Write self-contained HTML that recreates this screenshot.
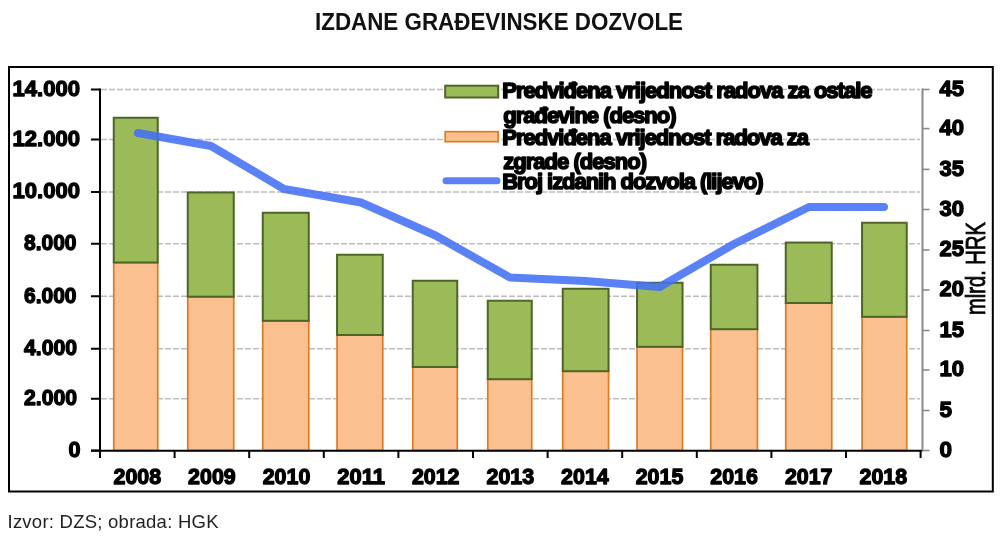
<!DOCTYPE html>
<html lang="hr"><head><meta charset="utf-8"><title>Izdane građevinske dozvole</title>
<style>
html,body{margin:0;padding:0;background:#fff;}
body{width:1000px;height:539px;overflow:hidden;font-family:"Liberation Sans",Arial,sans-serif;}
svg{display:block;filter:blur(0.45px);}
svg text{font-family:"Liberation Sans",Arial,sans-serif;}
.b{font-weight:bold;font-size:22px;fill:#000;stroke:#000;stroke-width:1.3px;stroke-linejoin:round;}
</style></head><body>
<svg width="1000" height="539" viewBox="0 0 1000 539">
<rect x="0" y="0" width="1000" height="539" fill="#fff"/>
<text x="315" y="29.7" font-weight="bold" font-size="23.8" fill="#111" textLength="368" lengthAdjust="spacingAndGlyphs">IZDANE GRAĐEVINSKE DOZVOLE</text>
<rect x="9" y="67" width="983.8" height="424.5" fill="#fff" stroke="#000" stroke-width="2"/>
<line x1="101" x2="920" y1="89.5" y2="89.5" stroke="#bdbdbd" stroke-width="1.3" stroke-dasharray="6 2"/>
<line x1="101" x2="920" y1="139.5" y2="139.5" stroke="#bdbdbd" stroke-width="1.3" stroke-dasharray="6 2"/>
<line x1="101" x2="920" y1="192" y2="192" stroke="#bdbdbd" stroke-width="1.3" stroke-dasharray="6 2"/>
<line x1="101" x2="920" y1="243.75" y2="243.75" stroke="#bdbdbd" stroke-width="1.3" stroke-dasharray="6 2"/>
<line x1="101" x2="920" y1="296.25" y2="296.25" stroke="#bdbdbd" stroke-width="1.3" stroke-dasharray="6 2"/>
<line x1="101" x2="920" y1="348.75" y2="348.75" stroke="#bdbdbd" stroke-width="1.3" stroke-dasharray="6 2"/>
<line x1="101" x2="920" y1="398.75" y2="398.75" stroke="#bdbdbd" stroke-width="1.3" stroke-dasharray="6 2"/>
<rect x="113.75" y="262.5" width="44.0" height="188.0" fill="#FAC090" stroke="#DD7A22" stroke-width="1.7"/>
<rect x="113.75" y="117.75" width="44.0" height="144.75" fill="#9BBB59" stroke="#4F6528" stroke-width="2"/>
<rect x="187.75" y="296.7" width="46.0" height="153.8" fill="#FAC090" stroke="#DD7A22" stroke-width="1.7"/>
<rect x="187.75" y="192.45" width="46.0" height="104.25" fill="#9BBB59" stroke="#4F6528" stroke-width="2"/>
<rect x="262.75" y="320.8" width="46.0" height="129.7" fill="#FAC090" stroke="#DD7A22" stroke-width="1.7"/>
<rect x="262.75" y="212.75" width="46.0" height="108.05000000000001" fill="#9BBB59" stroke="#4F6528" stroke-width="2"/>
<rect x="337.05" y="335" width="45.69999999999999" height="115.5" fill="#FAC090" stroke="#DD7A22" stroke-width="1.7"/>
<rect x="337.05" y="254.75" width="45.69999999999999" height="80.25" fill="#9BBB59" stroke="#4F6528" stroke-width="2"/>
<rect x="412.75" y="367" width="44.5" height="83.5" fill="#FAC090" stroke="#DD7A22" stroke-width="1.7"/>
<rect x="412.75" y="280.75" width="44.5" height="86.25" fill="#9BBB59" stroke="#4F6528" stroke-width="2"/>
<rect x="487.75" y="379.2" width="44.0" height="71.30000000000001" fill="#FAC090" stroke="#DD7A22" stroke-width="1.7"/>
<rect x="487.75" y="300.75" width="44.0" height="78.44999999999999" fill="#9BBB59" stroke="#4F6528" stroke-width="2"/>
<rect x="562.75" y="371.2" width="45.799999999999955" height="79.30000000000001" fill="#FAC090" stroke="#DD7A22" stroke-width="1.7"/>
<rect x="562.75" y="288.75" width="45.799999999999955" height="82.44999999999999" fill="#9BBB59" stroke="#4F6528" stroke-width="2"/>
<rect x="637.05" y="346.8" width="45.5" height="103.69999999999999" fill="#FAC090" stroke="#DD7A22" stroke-width="1.7"/>
<rect x="637.05" y="282.75" width="45.5" height="64.05000000000001" fill="#9BBB59" stroke="#4F6528" stroke-width="2"/>
<rect x="710.75" y="329.2" width="46.700000000000045" height="121.30000000000001" fill="#FAC090" stroke="#DD7A22" stroke-width="1.7"/>
<rect x="710.75" y="264.75" width="46.700000000000045" height="64.44999999999999" fill="#9BBB59" stroke="#4F6528" stroke-width="2"/>
<rect x="785.75" y="303" width="46.0" height="147.5" fill="#FAC090" stroke="#DD7A22" stroke-width="1.7"/>
<rect x="785.75" y="242.55" width="46.0" height="60.44999999999999" fill="#9BBB59" stroke="#4F6528" stroke-width="2"/>
<rect x="862.05" y="316.8" width="44.700000000000045" height="133.7" fill="#FAC090" stroke="#DD7A22" stroke-width="1.7"/>
<rect x="862.05" y="222.75" width="44.700000000000045" height="94.05000000000001" fill="#9BBB59" stroke="#4F6528" stroke-width="2"/>
<line x1="100" x2="100" y1="88.5" y2="451.5" stroke="#000" stroke-width="2"/>
<line x1="91" x2="922" y1="450.7" y2="450.7" stroke="#000" stroke-width="2"/>
<line x1="922.5" x2="922.5" y1="88.5" y2="451.5" stroke="#8a8a8a" stroke-width="2"/>
<line x1="91" x2="100" y1="89.5" y2="89.5" stroke="#000" stroke-width="2"/>
<line x1="91" x2="100" y1="139.5" y2="139.5" stroke="#000" stroke-width="2"/>
<line x1="91" x2="100" y1="192" y2="192" stroke="#000" stroke-width="2"/>
<line x1="91" x2="100" y1="243.75" y2="243.75" stroke="#000" stroke-width="2"/>
<line x1="91" x2="100" y1="296.25" y2="296.25" stroke="#000" stroke-width="2"/>
<line x1="91" x2="100" y1="348.75" y2="348.75" stroke="#000" stroke-width="2"/>
<line x1="91" x2="100" y1="398.75" y2="398.75" stroke="#000" stroke-width="2"/>
<line x1="91" x2="100" y1="450.5" y2="450.5" stroke="#000" stroke-width="2"/>
<line x1="100.0" x2="100.0" y1="450" y2="458" stroke="#000" stroke-width="2"/>
<line x1="174.6" x2="174.6" y1="450" y2="458" stroke="#000" stroke-width="2"/>
<line x1="249.2" x2="249.2" y1="450" y2="458" stroke="#000" stroke-width="2"/>
<line x1="323.8" x2="323.8" y1="450" y2="458" stroke="#000" stroke-width="2"/>
<line x1="398.4" x2="398.4" y1="450" y2="458" stroke="#000" stroke-width="2"/>
<line x1="473.0" x2="473.0" y1="450" y2="458" stroke="#000" stroke-width="2"/>
<line x1="547.6" x2="547.6" y1="450" y2="458" stroke="#000" stroke-width="2"/>
<line x1="622.2" x2="622.2" y1="450" y2="458" stroke="#000" stroke-width="2"/>
<line x1="696.8" x2="696.8" y1="450" y2="458" stroke="#000" stroke-width="2"/>
<line x1="771.4" x2="771.4" y1="450" y2="458" stroke="#000" stroke-width="2"/>
<line x1="846.0" x2="846.0" y1="450" y2="458" stroke="#000" stroke-width="2"/>
<line x1="920.6" x2="920.6" y1="450" y2="458" stroke="#000" stroke-width="2"/>
<line x1="922" x2="929.5" y1="89.5" y2="89.5" stroke="#8a8a8a" stroke-width="1.6"/>
<line x1="922" x2="929.5" y1="128.6" y2="128.6" stroke="#8a8a8a" stroke-width="1.6"/>
<line x1="922" x2="929.5" y1="169.4" y2="169.4" stroke="#8a8a8a" stroke-width="1.6"/>
<line x1="922" x2="929.5" y1="209.5" y2="209.5" stroke="#8a8a8a" stroke-width="1.6"/>
<line x1="922" x2="929.5" y1="250" y2="250" stroke="#8a8a8a" stroke-width="1.6"/>
<line x1="922" x2="929.5" y1="290" y2="290" stroke="#8a8a8a" stroke-width="1.6"/>
<line x1="922" x2="929.5" y1="330.5" y2="330.5" stroke="#8a8a8a" stroke-width="1.6"/>
<line x1="922" x2="929.5" y1="370" y2="370" stroke="#8a8a8a" stroke-width="1.6"/>
<line x1="922" x2="929.5" y1="410.5" y2="410.5" stroke="#8a8a8a" stroke-width="1.6"/>
<line x1="922" x2="929.5" y1="450.5" y2="450.5" stroke="#8a8a8a" stroke-width="1.6"/>
<text class="b" x="12.5" y="95.9" textLength="67.5" lengthAdjust="spacingAndGlyphs">14.000</text>
<text class="b" x="12.5" y="145.9" textLength="67.5" lengthAdjust="spacingAndGlyphs">12.000</text>
<text class="b" x="12.5" y="198.4" textLength="67.5" lengthAdjust="spacingAndGlyphs">10.000</text>
<text class="b" x="24" y="250.15" textLength="52.5" lengthAdjust="spacingAndGlyphs">8.000</text>
<text class="b" x="24" y="302.65" textLength="52.5" lengthAdjust="spacingAndGlyphs">6.000</text>
<text class="b" x="24" y="355.15" textLength="53" lengthAdjust="spacingAndGlyphs">4.000</text>
<text class="b" x="24" y="405.15" textLength="53" lengthAdjust="spacingAndGlyphs">2.000</text>
<text class="b" x="68.5" y="456.9" textLength="12.0" lengthAdjust="spacingAndGlyphs">0</text>
<text class="b" x="939.5" y="95.9" textLength="24.5" lengthAdjust="spacingAndGlyphs">45</text>
<text class="b" x="939.5" y="135.0" textLength="24.5" lengthAdjust="spacingAndGlyphs">40</text>
<text class="b" x="939.5" y="175.8" textLength="24.5" lengthAdjust="spacingAndGlyphs">35</text>
<text class="b" x="939.5" y="215.9" textLength="24.5" lengthAdjust="spacingAndGlyphs">30</text>
<text class="b" x="939.5" y="256.4" textLength="24.5" lengthAdjust="spacingAndGlyphs">25</text>
<text class="b" x="939.5" y="296.4" textLength="24.5" lengthAdjust="spacingAndGlyphs">20</text>
<text class="b" x="939.5" y="336.9" textLength="24.5" lengthAdjust="spacingAndGlyphs">15</text>
<text class="b" x="939.5" y="376.4" textLength="24.5" lengthAdjust="spacingAndGlyphs">10</text>
<text class="b" x="939.5" y="416.9" textLength="12.5" lengthAdjust="spacingAndGlyphs">5</text>
<text class="b" x="939.5" y="456.9" textLength="12.5" lengthAdjust="spacingAndGlyphs">0</text>
<text class="b" x="113.5" y="484" textLength="47.6" lengthAdjust="spacingAndGlyphs">2008</text>
<text class="b" x="188.1" y="484" textLength="47.6" lengthAdjust="spacingAndGlyphs">2009</text>
<text class="b" x="262.7" y="484" textLength="47.6" lengthAdjust="spacingAndGlyphs">2010</text>
<text class="b" x="337.3" y="484" textLength="47.6" lengthAdjust="spacingAndGlyphs">2011</text>
<text class="b" x="411.9" y="484" textLength="47.6" lengthAdjust="spacingAndGlyphs">2012</text>
<text class="b" x="486.5" y="484" textLength="47.6" lengthAdjust="spacingAndGlyphs">2013</text>
<text class="b" x="561.1" y="484" textLength="47.6" lengthAdjust="spacingAndGlyphs">2014</text>
<text class="b" x="635.7" y="484" textLength="47.6" lengthAdjust="spacingAndGlyphs">2015</text>
<text class="b" x="710.3" y="484" textLength="47.6" lengthAdjust="spacingAndGlyphs">2016</text>
<text class="b" x="784.9" y="484" textLength="47.6" lengthAdjust="spacingAndGlyphs">2017</text>
<text class="b" x="859.5" y="484" textLength="47.6" lengthAdjust="spacingAndGlyphs">2018</text>
<polyline points="138,133 211,146 284,189 361,202.5 435.5,235.5 510,277.5 585,281 659.6,287 734,244 809,207 884,207" fill="none" stroke="#4370F5" stroke-opacity="0.88" stroke-width="8" stroke-linecap="round" stroke-linejoin="round"/>
<rect x="445.2" y="85.7" width="53" height="11.8" fill="#9BBB59" stroke="#4F6528" stroke-width="2"/>
<rect x="445.2" y="131.7" width="53" height="10" fill="#FAC090" stroke="#DD7A22" stroke-width="1.7"/>
<line x1="446" x2="497" y1="180.7" y2="180.7" stroke="#4370F5" stroke-opacity="0.88" stroke-width="7" stroke-linecap="round"/>
<text class="b" x="502.3" y="98" font-size="23" style="stroke-width:1.6px" textLength="370.2" lengthAdjust="spacing">Predviđena vrijednost radova za ostale</text>
<text class="b" x="503.3" y="123" font-size="23" style="stroke-width:1.6px" textLength="173.2" lengthAdjust="spacing">građevine (desno)</text>
<text class="b" x="502.3" y="144.8" font-size="23" style="stroke-width:1.6px" textLength="306.7" lengthAdjust="spacing">Predviđena vrijednost radova za</text>
<text class="b" x="503.3" y="168.6" font-size="23" style="stroke-width:1.6px" textLength="143.7" lengthAdjust="spacing">zgrade (desno)</text>
<text class="b" x="502.3" y="189" font-size="23" style="stroke-width:1.6px" textLength="261.2" lengthAdjust="spacing">Broj izdanih dozvola (lijevo)</text>
<text transform="translate(984.8,315) rotate(-90) scale(0.72,1)" font-size="28" fill="#000" stroke="#000" stroke-width="0.8">mlrd. HRK</text>
<text x="7.5" y="528.2" font-size="18.5" fill="#222" textLength="211" lengthAdjust="spacing">Izvor: DZS; obrada: HGK</text>
</svg></body></html>
